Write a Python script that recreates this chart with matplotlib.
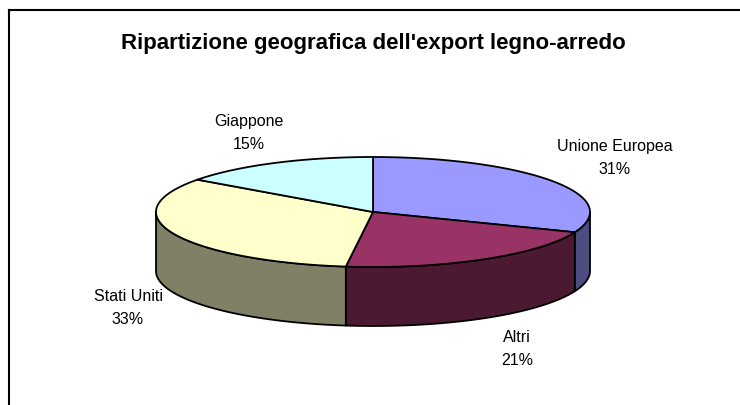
import numpy as np
import matplotlib.pyplot as plt
from matplotlib.patches import Polygon
from matplotlib.lines import Line2D

plt.rcParams['font.family'] = ['Liberation Sans', 'DejaVu Sans']

# data
categories = ['Unione Europea', 'Altri', 'Stati Uniti', 'Giappone']
shares = [31, 21, 33, 15]
top_colors = ['#9999FF', '#993366', '#FFFFCC', '#CCFFFF']
side_colors = ['#4C4C80', '#4C1933', '#808066', '#668080']

# layout (pixel units of the figure)
W, H = 740, 406
cx, cy = 373, 213
rx, ry = 217, 55
depth = 59
label_pos = [(615, 158), (517, 349), (128, 308), (249, 133)]


def arc(t0, t1, dy=0, n=80):
    t = np.radians(np.linspace(t0, t1, n))
    return np.column_stack([cx + rx * np.cos(t), cy - ry * np.sin(t) + dy])


fig = plt.figure(figsize=(W / 100, H / 100), dpi=100)
ax = fig.add_axes([0, 0, 1, 1])
ax.set_xlim(0, W)
ax.set_ylim(H, 0)
ax.axis('off')

bounds = 90 - 360 * np.concatenate([[0], np.cumsum(shares)]) / sum(shares)

# side walls (only the front half is visible)
for i in range(len(shares)):
    t0, t1 = bounds[i], bounds[i + 1]
    hi, lo = min(t0, 0), max(t1, -180)
    if lo < hi:
        top = arc(hi, lo)
        bot = arc(lo, hi, dy=depth)
        ax.add_patch(Polygon(np.vstack([top, bot]), closed=True,
                             facecolor=side_colors[i], edgecolor='black',
                             lw=1.3, zorder=1, joinstyle='round'))

# top faces
for i in range(len(shares)):
    pts = np.vstack([[cx, cy], arc(bounds[i], bounds[i + 1])])
    ax.add_patch(Polygon(pts, closed=True, facecolor=top_colors[i],
                         edgecolor='black', lw=1.3, zorder=2, joinstyle='round'))

# labels
for name, val, (x, y) in zip(categories, shares, label_pos):
    ax.text(x, y, f'{name}\n{val}%', ha='center', va='center',
            fontsize=11.5, linespacing=1.65, color='black')

ax.text(373, 44, "Ripartizione geografica dell'export legno-arredo",
        ha='center', va='center', fontsize=16, fontweight='bold')

# chart area frame (top and left edges visible)
fig.add_artist(Line2D([9 / W, 1], [1 - 11 / H, 1 - 11 / H],
                      transform=fig.transFigure, color='black', lw=1.5))
fig.add_artist(Line2D([9 / W, 9 / W], [0, 1 - 11 / H],
                      transform=fig.transFigure, color='black', lw=1.5))

fig.savefig('out.png', dpi=100)
